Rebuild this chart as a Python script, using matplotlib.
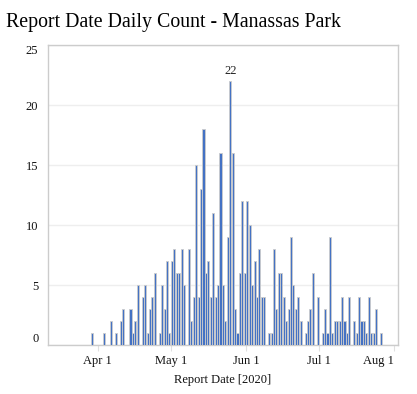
import matplotlib
matplotlib.use("Agg")
import matplotlib.pyplot as plt
import matplotlib.dates as mdates
import pandas as pd
import numpy as np

plt.rcParams['font.family'] = ['Liberation Serif', 'DejaVu Serif']

dates = ["2020-03-29", "2020-04-03", "2020-04-06", "2020-04-08", "2020-04-10", "2020-04-11",
         "2020-04-14", "2020-04-15", "2020-04-16", "2020-04-17", "2020-04-19", "2020-04-20",
         "2020-04-21", "2020-04-22", "2020-04-23", "2020-04-24", "2020-04-26", "2020-04-27",
         "2020-04-28", "2020-04-29", "2020-04-30", "2020-05-01", "2020-05-02", "2020-05-03",
         "2020-05-04", "2020-05-05", "2020-05-06", "2020-05-08", "2020-05-09", "2020-05-10",
         "2020-05-11", "2020-05-12", "2020-05-13", "2020-05-14", "2020-05-15", "2020-05-16",
         "2020-05-17", "2020-05-18", "2020-05-19", "2020-05-20", "2020-05-21", "2020-05-22",
         "2020-05-23", "2020-05-24", "2020-05-25", "2020-05-26", "2020-05-27", "2020-05-28",
         "2020-05-29", "2020-05-30", "2020-05-31", "2020-06-01", "2020-06-02", "2020-06-03",
         "2020-06-04", "2020-06-05", "2020-06-06", "2020-06-07", "2020-06-08", "2020-06-10",
         "2020-06-11", "2020-06-12", "2020-06-13", "2020-06-14", "2020-06-15", "2020-06-16",
         "2020-06-17", "2020-06-18", "2020-06-19", "2020-06-20", "2020-06-21", "2020-06-22",
         "2020-06-23", "2020-06-25", "2020-06-26", "2020-06-27", "2020-06-28", "2020-06-30",
         "2020-07-02", "2020-07-03", "2020-07-04", "2020-07-05", "2020-07-06", "2020-07-07",
         "2020-07-08", "2020-07-09", "2020-07-10", "2020-07-11", "2020-07-12", "2020-07-13",
         "2020-07-15", "2020-07-16", "2020-07-17", "2020-07-18", "2020-07-19", "2020-07-20",
         "2020-07-21", "2020-07-22", "2020-07-23", "2020-07-24", "2020-07-26"]
counts = [1, 1, 2, 1, 2, 3,
          3, 1, 2, 5, 4, 5,
          1, 3, 4, 6, 1, 5,
          3, 7, 1, 7, 8, 6,
          6, 8, 5, 8, 2, 4,
          15, 4, 13, 18, 6, 7,
          4, 11, 4, 5, 16, 5,
          2, 9, 22, 16, 3, 1,
          6, 12, 6, 12, 10, 5,
          7, 4, 8, 4, 4, 1,
          1, 8, 3, 6, 6, 4,
          2, 3, 9, 5, 3, 4,
          2, 1, 2, 3, 6, 4,
          1, 3, 1, 9, 1, 2,
          2, 2, 4, 2, 1, 4,
          2, 1, 4, 2, 2, 1,
          4, 1, 1, 3, 1]

tick_dates = ["2020-04-01", "2020-05-01", "2020-06-01", "2020-07-01", "2020-08-01"]
tick_labels = ["Apr 1", "May 1", "Jun 1", "Jul 1", "Aug 1"]
y_ticks = [0, 5, 10, 15, 20, 25]

W, H = 417, 394
fig = plt.figure(figsize=(W / 100, H / 100), dpi=100)
ax = fig.add_axes([48 / W, (H - 345) / H, (398 - 48) / W, (345 - 45) / H])

x = mdates.date2num(pd.to_datetime(dates)) + 0.5
ax.bar(x, counts, width=0.85, color='#4472C4', edgecolor='#cccccc', linewidth=0.6, zorder=3)

imax = int(np.argmax(counts))
ax.text(x[imax], counts[imax] + 0.3, str(counts[imax]), ha='center', va='bottom', fontsize=9, color='#222222')

apr1 = mdates.date2num(pd.Timestamp("2020-04-01"))
ax.set_xlim(apr1 - 20.44, apr1 + 123.5)
ax.set_ylim(0, 25)

ax.set_xticks(mdates.date2num(pd.to_datetime(tick_dates)))
ax.set_xticklabels(tick_labels, fontsize=9)
ax.set_yticks(y_ticks)
ax.set_yticklabels([str(v) for v in y_ticks], fontsize=9)
ylabs = ax.get_yticklabels()
ylabs[0].set_va('bottom')
ylabs[-1].set_va('top')
xlabs = ax.get_xticklabels()
xlabs[-1].set_ha('right')

ax.tick_params(axis='x', length=4, color='#e0e0e0', pad=3, labelcolor='#111111')
ax.tick_params(axis='y', length=0, pad=7, labelcolor='#111111')
ax.grid(axis='y', color='#eeeeee', linewidth=1, zorder=0)
for s in ax.spines.values():
    s.set_color('#cccccc')
    s.set_linewidth(1)

ax.set_xlabel("Report Date [2020]", fontsize=9, labelpad=5, color='#111111')
fig.text(6 / W, 1 - 22 / H, "Report Date Daily Count - Manassas Park", fontsize=14.3,
         ha='left', va='center', color='#000000')

fig.savefig("out.png", dpi=100)
